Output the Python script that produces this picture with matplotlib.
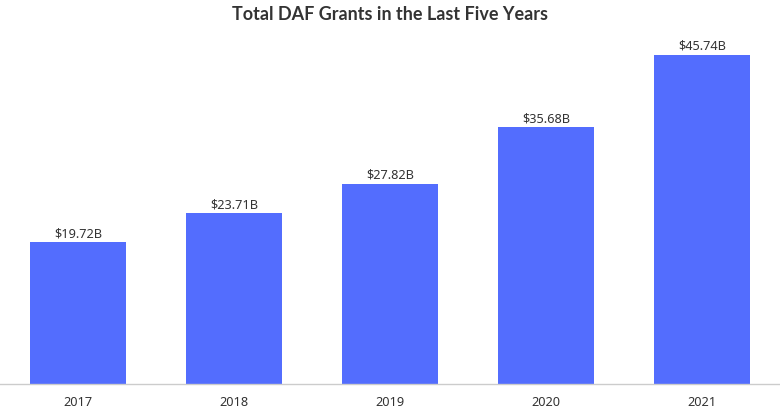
import matplotlib
matplotlib.use("Agg")
import matplotlib.pyplot as plt

years = ["2017", "2018", "2019", "2020", "2021"]
grants = [19.72, 23.71, 27.82, 35.68, 45.74]
labels = ["$19.72B", "$23.71B", "$27.82B", "$35.68B", "$45.74B"]

fig = plt.figure(figsize=(7.8, 4.1), dpi=100)
ax = fig.add_axes([0, 25/410, 1, (385-40)/410])
x = list(range(len(years)))
bars = ax.bar(x, grants, width=96/156, color="#536DFE")
ax.set_xlim(-0.5, len(years) - 0.5)
ax.set_ylim(0, 47.9)
for xi, v, lab in zip(x, grants, labels):
    ax.annotate(lab, (xi, v), xytext=(0, 2), textcoords="offset points",
                ha="center", va="bottom", fontsize=9.2, color="#333333",
                family="Noto Sans")
ax.set_xticks(x)
ax.set_xticklabels(years, fontsize=9.2, color="#333333", family="Noto Sans")
ax.tick_params(axis="x", length=0, pad=8)
ax.set_yticks([])
for s in ["top", "left", "right"]:
    ax.spines[s].set_visible(False)
ax.spines["bottom"].set_color("#cccccc")
ax.spines["bottom"].set_linewidth(1)
fig.text(0.5, 1 - 15/410, "Total DAF Grants in the Last Five Years", ha="center",
         va="center", fontsize=13, fontweight="bold", color="#333333", family="Lato")
fig.savefig("out.png", dpi=100)
